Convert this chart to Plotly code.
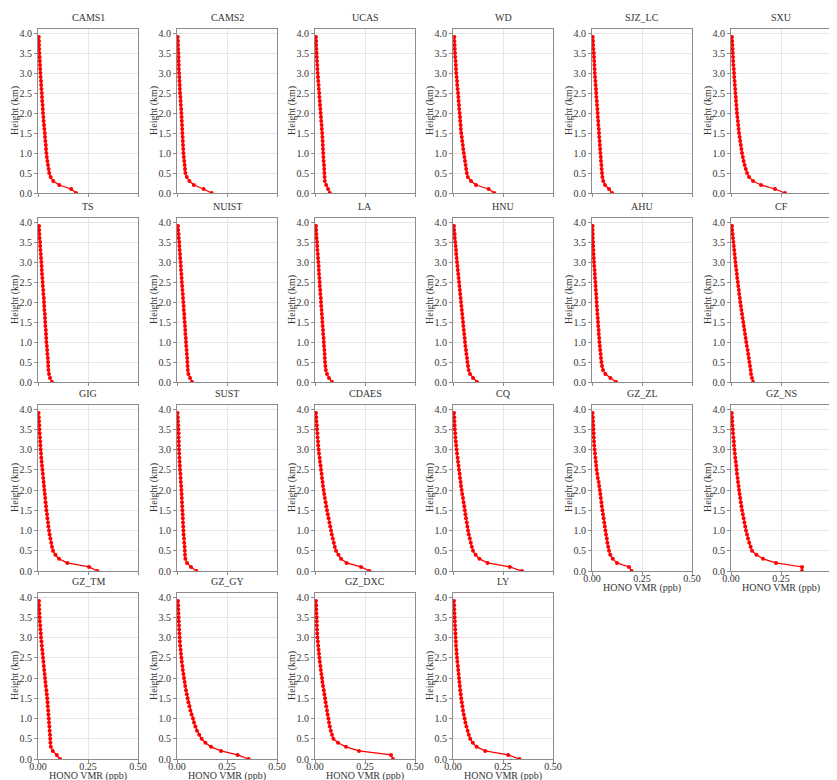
import plotly.graph_objects as go

HEIGHTS = [0.0, 0.1, 0.2, 0.3, 0.4, 0.5, 0.6, 0.7, 0.8, 0.9,
           1.0, 1.1, 1.2, 1.3, 1.4, 1.5, 1.6, 1.7, 1.8, 1.9,
           2.0, 2.1, 2.2, 2.3, 2.4, 2.5, 2.6, 2.7, 2.8, 2.9,
           3.0, 3.1, 3.2, 3.3, 3.4, 3.5, 3.6, 3.7, 3.8, 3.9]

SITES = ["CAMS1", "CAMS2", "UCAS", "WD", "SJZ_LC", "SXU",
         "TS", "NUIST", "LA", "HNU", "AHU", "CF",
         "GIG", "SUST", "CDAES", "CQ", "GZ_ZL", "GZ_NS",
         "GZ_TM", "GZ_GY", "GZ_DXC", "LY"]

CAMS1 = [0.190, 0.166, 0.106, 0.076, 0.063, 0.056, 0.053, 0.050, 0.047, 0.044,
         0.042, 0.040, 0.039, 0.037, 0.035, 0.034, 0.032, 0.030, 0.028, 0.027,
         0.025, 0.024, 0.023, 0.021, 0.020, 0.019, 0.017, 0.016, 0.015, 0.013,
         0.012, 0.011, 0.010, 0.009, 0.008, 0.007, 0.006, 0.005, 0.005, 0.004]
CAMS2 = [0.173, 0.133, 0.084, 0.062, 0.049, 0.042, 0.040, 0.038, 0.036, 0.034,
         0.032, 0.031, 0.030, 0.029, 0.028, 0.027, 0.026, 0.025, 0.024, 0.023,
         0.022, 0.021, 0.019, 0.018, 0.017, 0.015, 0.014, 0.013, 0.012, 0.011,
         0.010, 0.009, 0.009, 0.008, 0.008, 0.007, 0.006, 0.005, 0.005, 0.004]
UCAS = [0.074, 0.065, 0.056, 0.049, 0.048, 0.047, 0.046, 0.045, 0.043, 0.042,
        0.041, 0.040, 0.039, 0.038, 0.037, 0.036, 0.034, 0.033, 0.031, 0.030,
        0.028, 0.027, 0.025, 0.024, 0.022, 0.021, 0.019, 0.018, 0.016, 0.015,
        0.013, 0.012, 0.011, 0.010, 0.009, 0.008, 0.007, 0.006, 0.006, 0.005]
WD = [0.206, 0.178, 0.115, 0.090, 0.074, 0.069, 0.066, 0.063, 0.060, 0.057,
      0.054, 0.051, 0.049, 0.046, 0.044, 0.041, 0.039, 0.038, 0.036, 0.035,
      0.033, 0.031, 0.030, 0.028, 0.027, 0.025, 0.023, 0.021, 0.020, 0.018,
      0.016, 0.015, 0.014, 0.013, 0.011, 0.010, 0.009, 0.008, 0.007, 0.007]
SJZ_LC = [0.100, 0.085, 0.065, 0.056, 0.052, 0.050, 0.048, 0.047, 0.045, 0.044,
          0.042, 0.041, 0.039, 0.038, 0.036, 0.035, 0.034, 0.032, 0.031, 0.029,
          0.028, 0.027, 0.025, 0.024, 0.022, 0.021, 0.020, 0.018, 0.017, 0.015,
          0.014, 0.013, 0.012, 0.011, 0.010, 0.009, 0.007, 0.006, 0.005, 0.004]
SXU = [0.270, 0.220, 0.150, 0.110, 0.090, 0.080, 0.074, 0.068, 0.063, 0.059,
       0.055, 0.052, 0.049, 0.046, 0.043, 0.040, 0.038, 0.036, 0.034, 0.032,
       0.030, 0.028, 0.027, 0.025, 0.024, 0.022, 0.021, 0.019, 0.018, 0.016,
       0.015, 0.014, 0.012, 0.011, 0.010, 0.009, 0.008, 0.007, 0.006, 0.005]
TS = [0.070, 0.060, 0.055, 0.052, 0.051, 0.050, 0.049, 0.047, 0.046, 0.044,
      0.042, 0.041, 0.040, 0.039, 0.037, 0.036, 0.035, 0.034, 0.032, 0.031,
      0.030, 0.029, 0.027, 0.026, 0.024, 0.023, 0.022, 0.020, 0.019, 0.018,
      0.017, 0.015, 0.014, 0.012, 0.011, 0.010, 0.008, 0.007, 0.006, 0.005]
NUIST = [0.075, 0.065, 0.057, 0.054, 0.053, 0.052, 0.051, 0.049, 0.048, 0.046,
         0.045, 0.044, 0.042, 0.041, 0.040, 0.038, 0.037, 0.036, 0.034, 0.033,
         0.032, 0.030, 0.029, 0.027, 0.026, 0.024, 0.023, 0.022, 0.020, 0.019,
         0.018, 0.016, 0.015, 0.013, 0.012, 0.011, 0.009, 0.008, 0.006, 0.005]
LA = [0.085, 0.070, 0.060, 0.054, 0.052, 0.050, 0.049, 0.048, 0.047, 0.045,
      0.044, 0.043, 0.041, 0.040, 0.038, 0.037, 0.036, 0.034, 0.033, 0.031,
      0.030, 0.029, 0.027, 0.026, 0.024, 0.023, 0.022, 0.020, 0.019, 0.018,
      0.017, 0.015, 0.014, 0.012, 0.011, 0.010, 0.008, 0.007, 0.006, 0.005]
HNU = [0.120, 0.100, 0.085, 0.078, 0.075, 0.072, 0.070, 0.067, 0.065, 0.062,
       0.060, 0.058, 0.056, 0.054, 0.052, 0.050, 0.048, 0.046, 0.044, 0.042,
       0.040, 0.038, 0.036, 0.034, 0.032, 0.030, 0.028, 0.026, 0.024, 0.022,
       0.020, 0.018, 0.016, 0.015, 0.013, 0.011, 0.009, 0.008, 0.006, 0.005]
AHU = [0.120, 0.092, 0.067, 0.055, 0.050, 0.047, 0.045, 0.043, 0.041, 0.039,
       0.037, 0.036, 0.034, 0.033, 0.031, 0.030, 0.029, 0.027, 0.026, 0.024,
       0.023, 0.022, 0.021, 0.019, 0.018, 0.017, 0.015, 0.014, 0.013, 0.011,
       0.010, 0.009, 0.008, 0.007, 0.006, 0.005, 0.004, 0.004, 0.003, 0.003]
CF = [0.110, 0.105, 0.100, 0.098, 0.095, 0.092, 0.089, 0.086, 0.083, 0.079,
      0.076, 0.073, 0.070, 0.067, 0.064, 0.061, 0.058, 0.055, 0.052, 0.049,
      0.046, 0.044, 0.041, 0.039, 0.036, 0.034, 0.031, 0.029, 0.027, 0.024,
      0.022, 0.020, 0.018, 0.016, 0.014, 0.012, 0.010, 0.008, 0.006, 0.005]
GIG = [0.297, 0.255, 0.147, 0.105, 0.087, 0.075, 0.070, 0.066, 0.062, 0.058,
       0.055, 0.052, 0.050, 0.047, 0.045, 0.042, 0.040, 0.038, 0.036, 0.034,
       0.032, 0.030, 0.028, 0.026, 0.024, 0.022, 0.020, 0.018, 0.016, 0.015,
       0.013, 0.012, 0.011, 0.010, 0.008, 0.007, 0.006, 0.005, 0.004, 0.003]
SUST = [0.097, 0.070, 0.050, 0.042, 0.040, 0.039, 0.038, 0.036, 0.035, 0.033,
        0.032, 0.031, 0.030, 0.029, 0.028, 0.027, 0.026, 0.025, 0.024, 0.023,
        0.022, 0.021, 0.019, 0.018, 0.017, 0.015, 0.014, 0.013, 0.012, 0.011,
        0.010, 0.009, 0.009, 0.008, 0.008, 0.007, 0.006, 0.005, 0.004, 0.003]
CDAES = [0.272, 0.230, 0.158, 0.130, 0.117, 0.105, 0.099, 0.094, 0.089, 0.084,
         0.080, 0.076, 0.072, 0.068, 0.064, 0.060, 0.056, 0.053, 0.049, 0.046,
         0.043, 0.040, 0.038, 0.035, 0.033, 0.030, 0.028, 0.025, 0.023, 0.020,
         0.018, 0.016, 0.015, 0.013, 0.012, 0.010, 0.009, 0.007, 0.006, 0.005]
CQ = [0.345, 0.284, 0.173, 0.132, 0.113, 0.100, 0.094, 0.089, 0.084, 0.079,
      0.075, 0.072, 0.069, 0.065, 0.062, 0.059, 0.056, 0.053, 0.050, 0.046,
      0.043, 0.040, 0.038, 0.035, 0.033, 0.030, 0.028, 0.025, 0.023, 0.020,
      0.018, 0.016, 0.014, 0.012, 0.011, 0.009, 0.008, 0.007, 0.006, 0.005]
GZ_ZL = [0.198, 0.185, 0.125, 0.104, 0.091, 0.085, 0.081, 0.077, 0.074, 0.070,
         0.067, 0.064, 0.061, 0.058, 0.055, 0.052, 0.049, 0.047, 0.044, 0.042,
         0.039, 0.036, 0.033, 0.029, 0.026, 0.023, 0.021, 0.019, 0.017, 0.015,
         0.013, 0.011, 0.010, 0.009, 0.008, 0.007, 0.006, 0.005, 0.004, 0.003]
GZ_NS = [0.355, 0.355, 0.225, 0.160, 0.127, 0.105, 0.098, 0.091, 0.085, 0.080,
         0.075, 0.071, 0.067, 0.063, 0.059, 0.055, 0.052, 0.049, 0.046, 0.043,
         0.040, 0.038, 0.035, 0.033, 0.030, 0.028, 0.026, 0.024, 0.021, 0.019,
         0.017, 0.015, 0.014, 0.012, 0.010, 0.009, 0.007, 0.006, 0.005, 0.004]
GZ_TM = [0.110, 0.094, 0.074, 0.064, 0.062, 0.061, 0.060, 0.058, 0.057, 0.055,
         0.054, 0.052, 0.051, 0.049, 0.048, 0.046, 0.044, 0.042, 0.039, 0.037,
         0.035, 0.033, 0.031, 0.029, 0.027, 0.025, 0.023, 0.021, 0.019, 0.017,
         0.015, 0.014, 0.012, 0.011, 0.009, 0.008, 0.007, 0.006, 0.005, 0.005]
GZ_GY = [0.358, 0.303, 0.220, 0.170, 0.142, 0.123, 0.111, 0.100, 0.092, 0.085,
         0.080, 0.073, 0.067, 0.062, 0.057, 0.053, 0.049, 0.045, 0.041, 0.038,
         0.035, 0.032, 0.029, 0.027, 0.024, 0.022, 0.020, 0.018, 0.016, 0.014,
         0.013, 0.012, 0.011, 0.010, 0.009, 0.008, 0.007, 0.006, 0.006, 0.005]
GZ_DXC = [0.390, 0.380, 0.220, 0.155, 0.115, 0.092, 0.085, 0.079, 0.074, 0.070,
          0.067, 0.063, 0.060, 0.056, 0.053, 0.050, 0.047, 0.044, 0.040, 0.037,
          0.035, 0.032, 0.029, 0.027, 0.024, 0.022, 0.020, 0.018, 0.016, 0.014,
          0.012, 0.011, 0.010, 0.009, 0.009, 0.008, 0.007, 0.006, 0.006, 0.005]
LY = [0.332, 0.276, 0.161, 0.118, 0.099, 0.086, 0.079, 0.073, 0.067, 0.062,
      0.058, 0.054, 0.050, 0.047, 0.044, 0.041, 0.039, 0.036, 0.034, 0.032,
      0.030, 0.028, 0.026, 0.024, 0.022, 0.020, 0.018, 0.017, 0.015, 0.014,
      0.013, 0.012, 0.011, 0.010, 0.009, 0.008, 0.007, 0.006, 0.006, 0.005]

PROFILES = [CAMS1, CAMS2, UCAS, WD, SJZ_LC, SXU,
            TS, NUIST, LA, HNU, AHU, CF,
            GIG, SUST, CDAES, CQ, GZ_ZL, GZ_NS,
            GZ_TM, GZ_GY, GZ_DXC, LY]

X_TICKS = [0.0, 0.25, 0.5]
X_TICK_TEXT = ["0.00", "0.25", "0.50"]
Y_TICKS = [0.0, 0.5, 1.0, 1.5, 2.0, 2.5, 3.0, 3.5, 4.0]
Y_TICK_TEXT = ["0.0", "0.5", "1.0", "1.5", "2.0", "2.5", "3.0", "3.5", "4.0"]

# the page body has an 8 px margin, so the figure is shifted by it
PAGE_W, PAGE_H = 837, 780
OFF = 8
W, H = PAGE_W - OFF, PAGE_H - OFF

# positions below are in page pixels (as in the reference picture)
COL_LEFT = [38, 177, 315, 453, 592, 731]
COL_W = 100
ROW_TB = [(29, 193), (218, 382), (405, 571), (593, 759)]
# subplots that show x tick labels and x title (nothing below them)
LABELLED_X = {16, 17, 18, 19, 20, 21}


def px(xp):
    return min(1.0, max(0.0, (xp - OFF) / W))


def py(yp):
    return min(1.0, max(0.0, 1 - (yp - OFF) / H))


FONT = "Liberation Serif, Times New Roman, serif"
RED = "#ff0000"
FRAME = "#8c8c8c"
GRID = "#e6e6e6"
TXT = "#333333"

fig = go.Figure()
layout = dict(width=W, height=H, margin=dict(l=0, r=0, t=0, b=0),
              paper_bgcolor="white", plot_bgcolor="white",
              showlegend=False, font=dict(family=FONT, size=10, color=TXT))
annotations = []

for i, (name, vals) in enumerate(zip(SITES, PROFILES)):
    r, c = divmod(i, 6)
    n = i + 1
    xk = "xaxis" if n == 1 else f"xaxis{n}"
    yk = "yaxis" if n == 1 else f"yaxis{n}"
    xr = "x" if n == 1 else f"x{n}"
    yr = "y" if n == 1 else f"y{n}"
    left = COL_LEFT[c]
    top, bot = ROW_TB[r]
    fig.add_trace(go.Scatter(
        x=vals, y=HEIGHTS, mode="lines+markers", xaxis=xr, yaxis=yr,
        line=dict(color=RED, width=1.3),
        marker=dict(color=RED, size=4, symbol="circle"),
        hoverinfo="skip"))
    show_x = i in LABELLED_X
    layout[xk] = dict(
        domain=[px(left), px(left + COL_W)], anchor=yr, automargin=False,
        range=[0, 0.5], tickvals=X_TICKS, ticktext=X_TICK_TEXT,
        showticklabels=show_x, ticks="outside", ticklen=3, tickcolor=FRAME,
        ticklabelstandoff=-5,
        showgrid=True, gridcolor=GRID, gridwidth=1, zeroline=False,
        showline=True, linecolor=FRAME, linewidth=1, mirror=True,
        tickfont=dict(family=FONT, size=10, color=TXT),
    )
    layout[yk] = dict(
        domain=[py(bot), py(top)], anchor=xr, automargin=False,
        range=[0, 4.1], tickvals=Y_TICKS, ticktext=Y_TICK_TEXT,
        ticks="outside", ticklen=3, tickcolor=FRAME,
        showgrid=True, gridcolor=GRID, gridwidth=1, zeroline=False,
        showline=True, linecolor=FRAME, linewidth=1, mirror=True,
        tickfont=dict(family=FONT, size=10, color=TXT),
    )
    annotations.append(dict(
        text=name, x=px(left + COL_W / 2), y=py(top - 12),
        xref="paper", yref="paper", showarrow=False,
        xanchor="center", yanchor="middle",
        font=dict(family=FONT, size=10, color=TXT)))
    annotations.append(dict(
        text="Height (km)", x=px(left - 23), y=py((top + bot) / 2),
        xref="paper", yref="paper", showarrow=False, textangle=-90,
        xanchor="center", yanchor="middle",
        font=dict(family=FONT, size=10, color=TXT)))
    if show_x:
        annotations.append(dict(
            text="HONO VMR (ppb)", x=px(left + COL_W / 2), y=py(bot + 17),
            xref="paper", yref="paper", showarrow=False,
            xanchor="center", yanchor="middle",
            font=dict(family=FONT, size=10, color=TXT)))

layout["annotations"] = annotations
fig.update_layout(**layout)
fig.write_html("out.html")
